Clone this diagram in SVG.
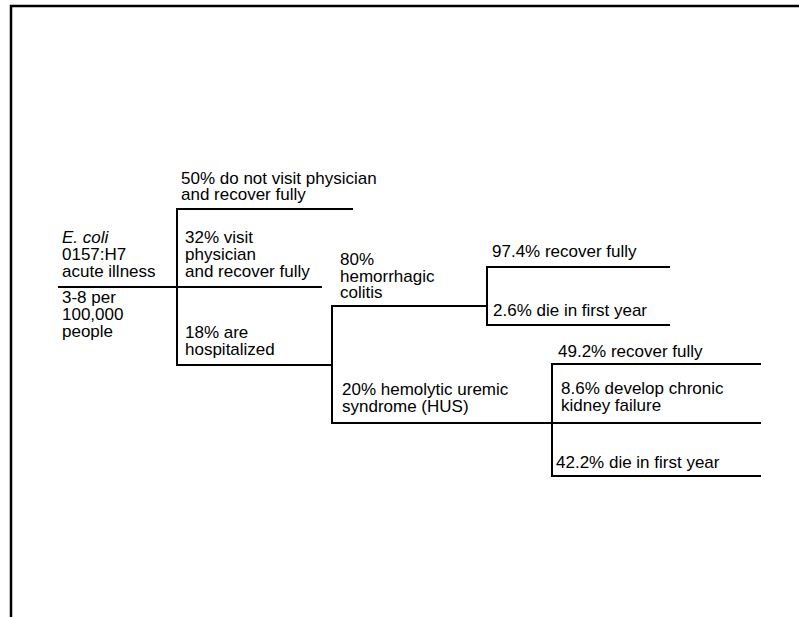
<svg xmlns="http://www.w3.org/2000/svg" width="799" height="617" viewBox="0 0 799 617">
<style>
text{font-family:"Liberation Sans",Arial,sans-serif;font-size:17px;fill:#000}
.it{font-style:italic}
.ln{stroke:#000;stroke-width:2;fill:none;stroke-linecap:square}
</style>
<rect width="799" height="617" fill="#fff"/>
<path id="frame" d="M11 620V6H802" fill="none" stroke="#000" stroke-width="2.5"/>
<g id="connectors" class="ln">
<path d="M59 287H177"/>
<path d="M177 209V365"/>
<path d="M177 209H352"/>
<path d="M177 287H321"/>
<path d="M177 365H332"/>
<path d="M332 306V423"/>
<path d="M332 306H487"/>
<path d="M487 267V325"/>
<path d="M487 267H669"/>
<path d="M487 325H669"/>
<path d="M332 423H760"/>
<path d="M552 364V476"/>
<path d="M552 364H760"/>
<path d="M552 476H760"/>
</g>
<g id="root">
<text x="62" y="243" class="it">E. coli</text>
<text x="62" y="260">0157:H7</text>
<text x="62" y="277">acute illness</text>
<text x="62" y="303">3-8 per</text>
<text x="62" y="320">100,000</text>
<text x="62" y="337">people</text>
</g>
<g id="no-visit">
<text x="181" y="184">50% do not visit physician</text>
<text x="181" y="200">and recover fully</text>
</g>
<g id="visit">
<text x="185" y="243">32% visit</text>
<text x="185" y="260">physician</text>
<text x="185" y="277">and recover fully</text>
</g>
<g id="hospitalized">
<text x="185" y="338">18% are</text>
<text x="185" y="355">hospitalized</text>
</g>
<g id="colitis">
<text x="340" y="265">80%</text>
<text x="340" y="282">hemorrhagic</text>
<text x="340" y="298">colitis</text>
</g>
<g id="colitis-recover">
<text x="492" y="257">97.4% recover fully</text>
</g>
<g id="colitis-die">
<text x="493" y="316">2.6% die in first year</text>
</g>
<g id="hus">
<text x="342" y="395">20% hemolytic uremic</text>
<text x="342" y="412">syndrome (HUS)</text>
</g>
<g id="hus-recover">
<text x="558" y="357">49.2% recover fully</text>
</g>
<g id="hus-chronic">
<text x="561" y="394">8.6% develop chronic</text>
<text x="561" y="411">kidney failure</text>
</g>
<g id="hus-die">
<text x="556" y="468">42.2% die in first year</text>
</g>
</svg>
